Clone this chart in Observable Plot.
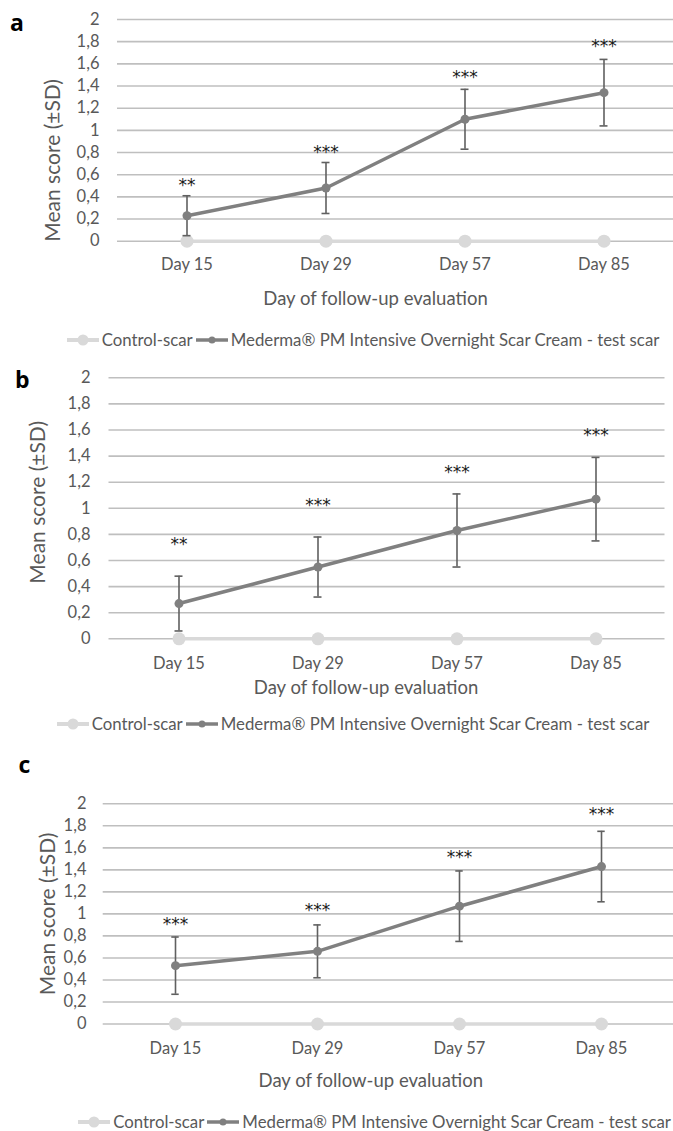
<!DOCTYPE html>
<html><head><meta charset="utf-8">
<script src="https://cdn.jsdelivr.net/npm/d3@7"></script>
<script src="https://cdn.jsdelivr.net/npm/@observablehq/plot@0.6"></script>
<style>
body{margin:0;background:#fff;font-family:Lato,sans-serif;}
#root{position:relative;width:673px;height:1131px;overflow:hidden;background:#fff;}
.panel{position:absolute;left:0;}
.letter{position:absolute;font-weight:bold;font-size:23px;line-height:23px;color:#000;font-family:"Open Sans",sans-serif;}
.legend{position:absolute;display:flex;align-items:center;font-size:16.8px;line-height:20px;color:#595959;white-space:nowrap;font-family:Lato,sans-serif;}
.legend svg{display:block;margin-right:3px;}
.legend .item{display:flex;align-items:center;margin-right:3px;}
</style></head><body><div id="root"></div>
<script>
// ---------- data ----------
const days = ["Day 15", "Day 29", "Day 57", "Day 85"];
const yTicks = [0, 0.2, 0.4, 0.6, 0.8, 1, 1.2, 1.4, 1.6, 1.8, 2];
const seriesNames = ["Control-scar", "Mederma® PM Intensive Overnight Scar Cream - test scar"];
const xTitle = "Day of follow-up evaluation";
const yTitle = "Mean score (±SD)";

// panel a
const controlA = [0, 0, 0, 0];
const meanA = [0.23, 0.48, 1.10, 1.34];
const sdA = [0.18, 0.23, 0.27, 0.30];
const sigA = ["**", "***", "***", "***"];
const sigYA = [0.545, 0.84, 1.52, 1.80];

// panel b
const controlB = [0, 0, 0, 0];
const meanB = [0.27, 0.55, 0.83, 1.07];
const sdB = [0.21, 0.23, 0.28, 0.32];
const sigB = ["**", "***", "***", "***"];
const sigYB = [0.76, 1.054, 1.31, 1.59];

// panel c
const controlC = [0, 0, 0, 0];
const meanC = [0.53, 0.66, 1.07, 1.43];
const sdC = [0.26, 0.24, 0.32, 0.32];
const sigC = ["***", "***", "***", "***"];
const sigYC = [0.94, 1.07, 1.55, 1.946];

// ---------- layout (styles only) ----------
const panels = [
  {letter: "a", control: controlA, mean: meanA, sd: sdA, sig: sigA, sigY: sigYA,
   top: 0, height: 320, mt: 19, mb: 79.3, ml: 117, mr: 0, tickPadY: 18, tickPadX: 17.5,
   xTitleDx: -20, xTitleDy: 57.6, yTitleDx: -64, yTitleDy: 30,
   letterPos: [10, 11], legendPos: [66.7, 340]},
  {letter: "b", control: controlB, mean: meanB, sd: sdB, sig: sigB, sigY: sigYB,
   top: 360, height: 345, mt: 17.3, mb: 66.7, ml: 108.5, mr: 8.5, tickPadY: 18.5, tickPadX: 18.5,
   xTitleDx: -21, xTitleDy: 49.6, yTitleDx: -71, yTitleDy: -6,
   letterPos: [15, 367.5], legendPos: [56.7, 724]},
  {letter: "c", control: controlC, mean: meanC, sd: sdC, sig: sigC, sigY: sigYC,
   top: 780, height: 320, mt: 23.3, mb: 76.5, ml: 102.7, mr: 0, tickPadY: 16.7, tickPadX: 18.5,
   xTitleDx: -17.6, xTitleDy: 57.5, yTitleDx: -55, yTitleDy: 0,
   letterPos: [18.5, 753], legendPos: [78.3, 1121.7]}
];

const root = document.getElementById("root");
const W = 673;
const fmt = d => String(d).replace(".", ",");

for (const p of panels) {
  const control = days.map((day, i) => ({day, value: p.control[i]}));
  const test = days.map((day, i) => ({day, mean: p.mean[i], sd: p.sd[i], sig: p.sig[i], sigY: p.sigY[i]}));
  const bw = (W - p.ml - p.mr) / days.length;
  const capInset = (bw - 8) / 2;

  const chart = Plot.plot({
    width: W, height: p.height,
    marginTop: p.mt, marginBottom: p.mb, marginLeft: p.ml, marginRight: p.mr,
    style: {fontFamily: "Lato, sans-serif", fontSize: "16.5px", color: "#595959", background: "transparent", overflow: "visible"},
    x: {type: "band", domain: days, padding: 0},
    y: {domain: [0, 2]},
    marks: [
      Plot.ruleY(yTicks, {stroke: "#bfbfbf", strokeWidth: 1.6}),
      Plot.axisY({ticks: yTicks, tickSize: 0, tickPadding: p.tickPadY, tickFormat: fmt, label: null, fontSize: 16.5}),
      Plot.axisX({tickSize: 0, tickPadding: p.tickPadX, label: null, fontSize: 16.5}),
      Plot.line(control, {x: "day", y: "value", stroke: "#d9d9d9", strokeWidth: 3.5}),
      Plot.dot(control, {x: "day", y: "value", r: 6.5, fill: "#d9d9d9", stroke: null}),
      Plot.line(test, {x: "day", y: "mean", stroke: "#808080", strokeWidth: 3.5}),
      Plot.ruleX(test, {x: "day", y1: d => d.mean - d.sd, y2: d => d.mean + d.sd, stroke: "#606060", strokeWidth: 1.6}),
      Plot.tickY(test, {x: "day", y: d => d.mean + d.sd, stroke: "#606060", strokeWidth: 1.6, inset: capInset}),
      Plot.tickY(test, {x: "day", y: d => d.mean - d.sd, stroke: "#606060", strokeWidth: 1.6, inset: capInset}),
      Plot.dot(test, {x: "day", y: "mean", r: 4.5, fill: "#808080", stroke: null}),
      Plot.text(test, {x: "day", y: "sigY", text: "sig", fill: "#1a1a1a", fontSize: 17, fontFamily: "DejaVu Sans", dy: 4.5, letterSpacing: "2px"}),
      Plot.text([xTitle], {text: d => d, frameAnchor: "bottom", textAnchor: "middle", lineAnchor: "middle", dx: p.xTitleDx, dy: p.xTitleDy, fontSize: 18.5, fill: "#595959"}),
      Plot.text([yTitle], {text: d => d, frameAnchor: "left", textAnchor: "middle", lineAnchor: "middle", rotate: -90, dx: p.yTitleDx, dy: p.yTitleDy, fontSize: 21, fill: "#595959"})
    ]
  });
  const wrap = document.createElement("div");
  wrap.className = "panel";
  wrap.style.top = p.top + "px";
  wrap.appendChild(chart);
  root.appendChild(wrap);

  const letter = document.createElement("div");
  letter.className = "letter";
  letter.textContent = p.letter;
  letter.style.left = p.letterPos[0] + "px";
  letter.style.top = p.letterPos[1] + "px";
  root.appendChild(letter);

  const legend = document.createElement("div");
  legend.className = "legend";
  legend.style.left = p.legendPos[0] + "px";
  legend.style.top = (p.legendPos[1] - 10) + "px";
  const sym = [
    `<svg width="32" height="14"><line x1="0" y1="7" x2="32" y2="7" stroke="#d9d9d9" stroke-width="4"/><circle cx="16" cy="7" r="5.5" fill="#d9d9d9"/></svg>`,
    `<svg width="32" height="14"><line x1="0" y1="7" x2="32" y2="7" stroke="#808080" stroke-width="3.5"/><circle cx="16" cy="7" r="3.5" fill="#808080"/></svg>`
  ];
  legend.innerHTML = seriesNames.map((n, i) => `<span class="item">${sym[i]}<span>${n}</span></span>`).join("");
  root.appendChild(legend);
}
</script>
</body></html>
